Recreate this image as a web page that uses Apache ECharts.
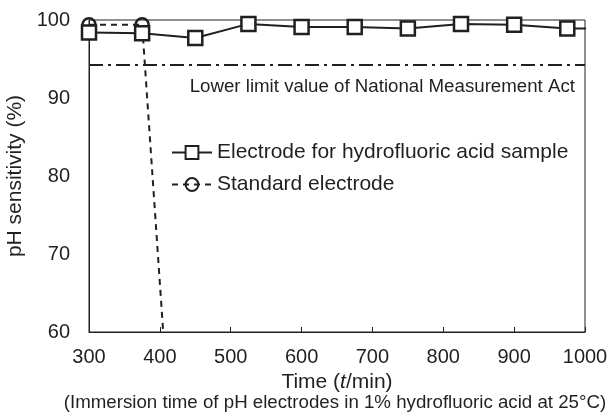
<!DOCTYPE html>
<html>
<head>
<meta charset="utf-8">
<script src="https://cdn.jsdelivr.net/npm/echarts@6/dist/echarts.min.js"></script>
<style>
  html, body { margin: 0; padding: 0; background: #fff; }
  #main { width: 609px; height: 416px; }
</style>
</head>
<body>
<div id="main"></div>
<script>
// pH sensitivity vs immersion time
var hfTimes = [300, 375, 450, 525, 600, 675, 750, 825, 900, 975, 1050];
var hfValues = [98.4, 98.3, 97.7, 99.5, 99.1, 99.1, 98.9, 99.5, 99.4, 98.9, 98.9];
var stdTimes = [300, 375, 450];
var stdValues = [99.4, 99.4, 0];
var lowerLimit = 94.2;
var xTicks = [300, 400, 500, 600, 700, 800, 900, 1000];
var yTicks = [60, 70, 80, 90, 100];

var font = '"Liberation Sans", Arial, sans-serif';
var ink = '#231f20';

// last points sit outside the axis range, keep the line but hide their marker
function pairs(xs, ys, shown) {
    return xs.map(function(x, i) {
        var item = { value: [x, ys[i]] };
        if (i >= shown) item.symbol = 'none';
        return item;
    });
}

var myChart = echarts.init(document.getElementById('main'));
myChart.setOption({
    animation: false,
    grid: { left: 89, right: 24, top: 20, bottom: 84, outerBoundsMode: 'none', containLabel: false },
    legend: {
        orient: 'vertical',
        left: 166,
        top: 137,
        itemWidth: 40,
        itemHeight: 16,
        itemGap: 11,
        textStyle: { fontFamily: font, fontSize: 21, color: ink },
        data: ['Electrode for hydrofluoric acid sample', 'Standard electrode']
    },
    xAxis: {
        type: 'value',
        min: xTicks[0],
        max: xTicks[xTicks.length - 1],
        interval: 100,
        name: 'Time ({i|t}/min)',
        nameLocation: 'middle',
        nameGap: 38,
        nameTextStyle: {
            fontFamily: font, fontSize: 21, color: ink,
            rich: { i: { fontFamily: font, fontSize: 21, fontStyle: 'italic', color: ink } }
        },
        axisLine: { show: true, lineStyle: { color: ink, width: 1 } },
        axisTick: { show: true, inside: true, length: 5, lineStyle: { color: ink } },
        axisLabel: {
            margin: 15, fontFamily: font, fontSize: 20, color: ink,
            formatter: function(v) { return String(v); }
        },
        splitLine: { show: false }
    },
    yAxis: {
        type: 'value',
        min: yTicks[0],
        max: yTicks[yTicks.length - 1],
        interval: 10,
        name: 'pH sensitivity (%)',
        nameLocation: 'middle',
        nameGap: 59,
        nameTextStyle: { fontFamily: font, fontSize: 21, color: ink },
        axisLine: { show: true, lineStyle: { color: ink, width: 1 } },
        axisTick: { show: false },
        axisLabel: { margin: 19, fontFamily: font, fontSize: 20, color: ink },
        splitLine: { show: false }
    },
    graphic: [
        {
            type: 'rect',
            shape: { x: 89, y: 20, width: 496, height: 312 },
            style: { fill: 'none', stroke: ink, lineWidth: 1 },
            silent: true
        },
        {
            type: 'text',
            x: 335,
            y: 393,
            style: {
                text: '(Immersion time of pH electrodes in 1% hydrofluoric acid at 25°C)',
                font: '18.7px ' + font,
                fill: ink,
                align: 'center'
            }
        },
        {
            type: 'text',
            right: 34,
            top: 77,
            style: {
                text: 'Lower limit value of National Measurement Act',
                font: '18.7px ' + font,
                fill: ink
            }
        }
    ],
    series: [
        {
            name: 'Electrode for hydrofluoric acid sample',
            type: 'line',
            clip: true,
            symbol: 'rect',
            symbolSize: 14,
            lineStyle: { color: ink, width: 2 },
            itemStyle: { color: '#fff', borderColor: ink, borderWidth: 2.5 },
            data: pairs(hfTimes, hfValues, 10),
            z: 3,
            markLine: {
                silent: true,
                symbol: 'none',
                label: { show: false },
                lineStyle: { color: ink, width: 2, type: [14, 5, 3, 5] },
                data: [{ yAxis: lowerLimit }]
            }
        },
        {
            name: 'Standard electrode',
            type: 'line',
            clip: true,
            symbol: 'circle',
            symbolSize: 13,
            lineStyle: { color: ink, width: 2, type: [6, 5] },
            itemStyle: { color: 'rgba(255,255,255,0)', borderColor: ink, borderWidth: 2.5 },
            data: pairs(stdTimes, stdValues, 2),
            z: 2
        }
    ]
});
</script>
</body>
</html>
